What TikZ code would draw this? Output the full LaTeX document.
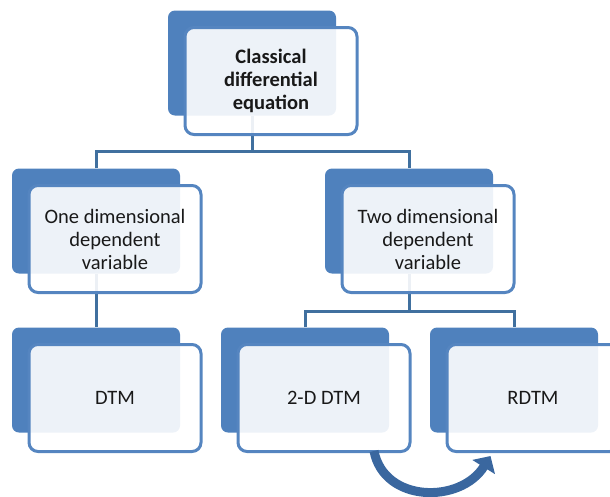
\documentclass[tikz,border=0pt]{standalone}
\usepackage{fontspec}
\setmainfont{Carlito}
\usetikzlibrary{arrows.meta,calc}
\definecolor{bblue}{HTML}{4F81BD}
\definecolor{fblue}{HTML}{5585C0}
\definecolor{cblue}{HTML}{40709F}
\definecolor{ablue}{HTML}{3A679F}
\begin{document}
\begin{tikzpicture}[x=1pt,y=-1pt,
  back/.style={fill=bblue, draw=none, rounded corners=7pt, minimum width=168pt, minimum height=105pt, inner sep=0pt},
  front/.style={fill=white, fill opacity=0.9, text opacity=1, draw=fblue, draw opacity=1, line width=3pt, rounded corners=9pt, minimum width=172pt, minimum height=107pt, inner sep=0pt, align=center, font=\fontsize{20.5}{23}\selectfont, text=black!90},
  conn/.style={draw=cblue, line width=3pt},
  curvarrow/.style={draw=ablue, line width=9pt, -{Triangle[length=13pt,width=26pt]}}
]
\useasboundingbox (0,0) rectangle (610,496);
% back boxes
\node[back] (b0) at (252,63) {};
\node[back] (b1) at (96,221) {};
\node[back] (b2) at (409,221) {};
\node[back] (b3) at (96,380) {};
\node[back] (b4) at (305,380) {};
\node[back] (b5) at (514,380) {};
% connectors
\coordinate (j0) at (252,151);
\coordinate (j1) at (409,311);
\draw[conn] (b0.south) -- (j0);
\draw[conn] (b1.north) |- (j0) -| (b2.north);
\draw[conn] (b1.south) -- (b3.north);
\draw[conn] (b2.south) -- (j1);
\draw[conn] (b4.north) |- (j1) -| (b5.north);
% front boxes
\node[front] (f0) at ($(b0)+(19,18)$) {\textbf{Classical}\\\textbf{differential}\\\textbf{equation}};
\node[front] (f1) at ($(b1)+(19,18)$) {One dimensional\\dependent\\variable};
\node[front] (f2) at ($(b2)+(19,18)$) {Two dimensional\\dependent\\variable};
\node[front] (f3) at ($(b3)+(19,18)$) {DTM};
\node[front] (f4) at ($(b4)+(19,18)$) {2-D DTM};
\node[front] (f5) at ($(b5)+(19,18)$) {RDTM};
% curved arrow
\coordinate (as) at ($(f4.south)+(50,-2)$);
\coordinate (ae) at ($(f5.south west)+(45,3)$);
\draw[curvarrow] (as) .. controls ($(as)+(10,52)$) and ($(ae)+(-30,48)$) .. (ae);
\end{tikzpicture}
\end{document}
